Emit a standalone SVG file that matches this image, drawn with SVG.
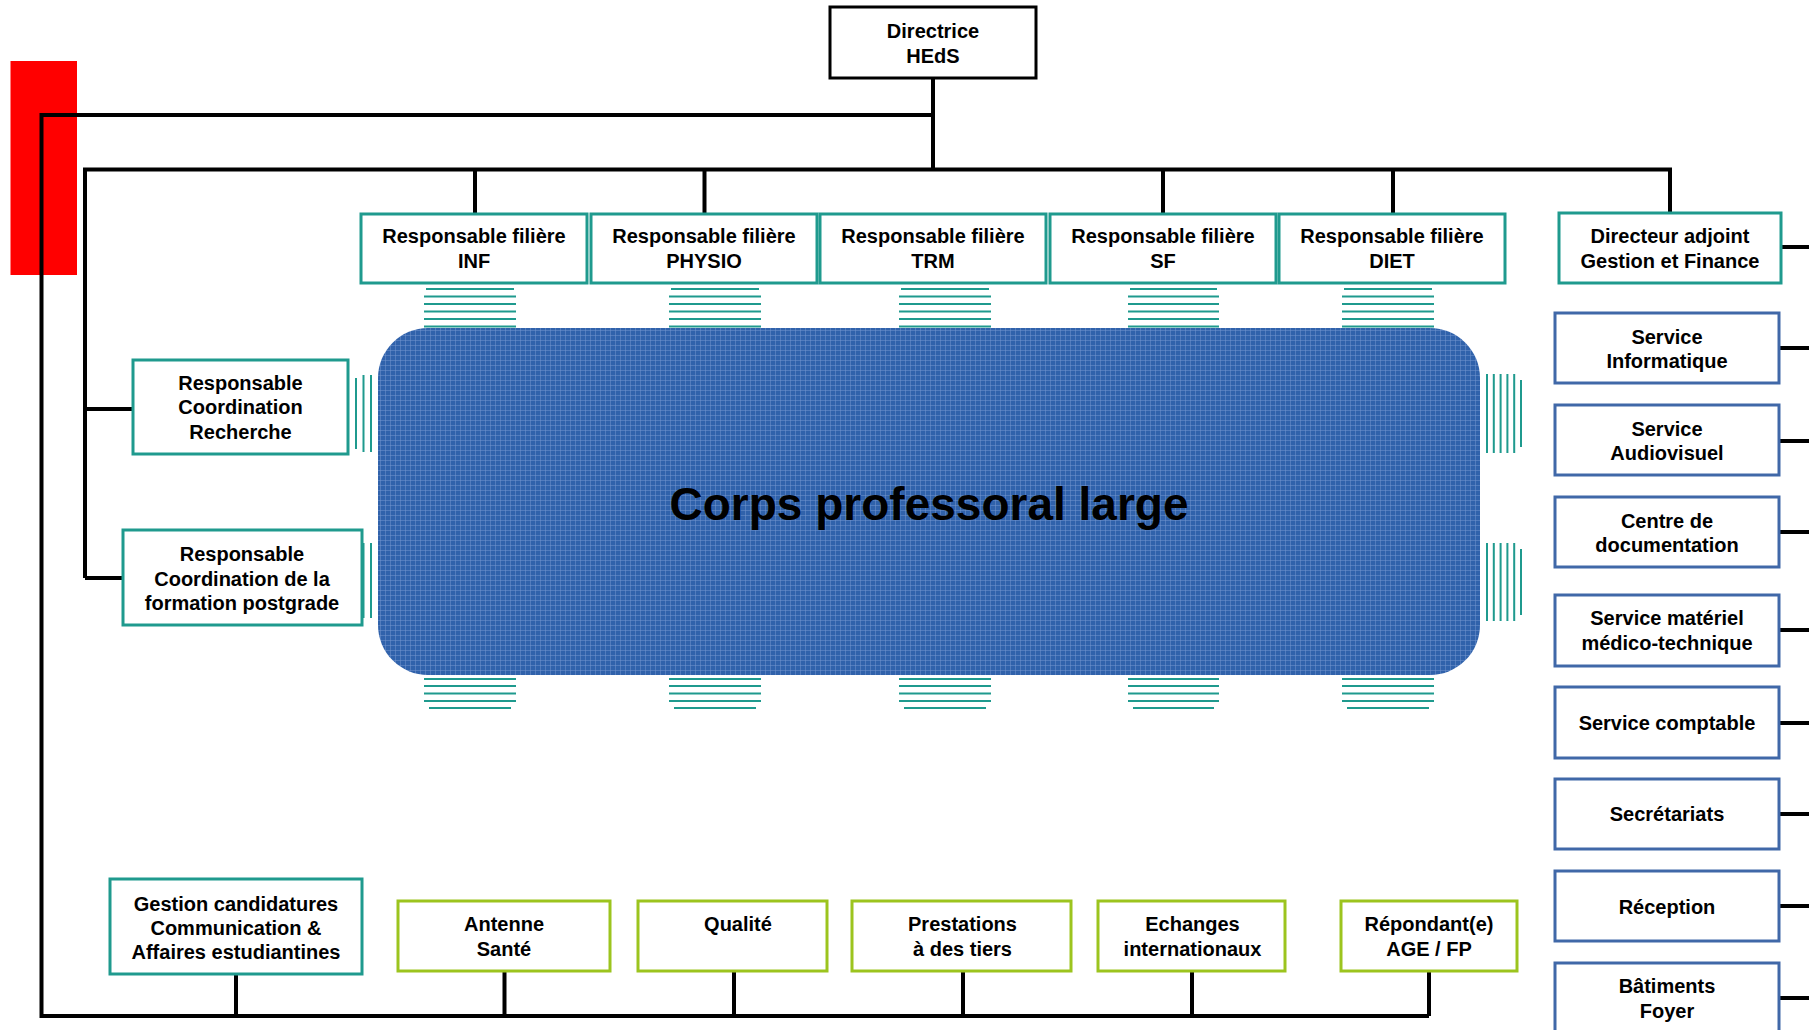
<svg xmlns="http://www.w3.org/2000/svg" width="1809" height="1030" viewBox="0 0 1809 1030">
<style>
.t{font-family:"Liberation Sans",Arial,Helvetica,sans-serif;font-weight:bold;font-size:20px;fill:#000;text-anchor:middle}
.big{font-size:46px}
.teal{fill:#fff;stroke:#1f9a8e;stroke-width:3}
.green{fill:#fff;stroke:#9cc41e;stroke-width:3}
.blue{fill:#fff;stroke:#4068a8;stroke-width:3}
.blk{fill:#fff;stroke:#000;stroke-width:3}
.conn{stroke:#000;stroke-width:4;fill:none;stroke-linejoin:miter}
.hatch{stroke:#1f9a8e;stroke-width:2;fill:none}
</style>
<defs>
<pattern id="dots" width="5" height="5" patternUnits="userSpaceOnUse">
<rect width="5" height="5" fill="#3062ab"/>
<rect width="5" height="1" fill="#7396cf" opacity="0.5"/>
<rect width="1" height="5" fill="#7396cf" opacity="0.5"/>
</pattern>
</defs>
<rect width="1809" height="1030" fill="#fff"/>
<rect x="10.5" y="61" width="66.5" height="214" fill="#ff0000"/>

<g id="corps">
<rect x="378" y="328" width="1102" height="347" rx="50" fill="url(#dots)"/>
<text class="t big" x="929" y="520">Corps professoral large</text>
</g>

<g id="hatches" class="hatch">
<path d="M426,289H514M424,296.5H516M424,304H516M424,311.5H516M424,319H516M424,326.5H516"/>
<path d="M671,289H759M669,296.5H761M669,304H761M669,311.5H761M669,319H761M669,326.5H761"/>
<path d="M901,289H989M899,296.5H991M899,304H991M899,311.5H991M899,319H991M899,326.5H991"/>
<path d="M1130,289H1217M1128,296.5H1219M1128,304H1219M1128,311.5H1219M1128,319H1219M1128,326.5H1219"/>
<path d="M1344,289H1432M1342,296.5H1434M1342,304H1434M1342,311.5H1434M1342,319H1434M1342,326.5H1434"/>
<path d="M424,679H516M424,686H516M424,693.5H516M424,701H516M429,708H511"/>
<path d="M669,679H761M669,686H761M669,693.5H761M669,701H761M674,708H756"/>
<path d="M899,679H991M899,686H991M899,693.5H991M899,701H991M904,708H986"/>
<path d="M1128,679H1219M1128,686H1219M1128,693.5H1219M1128,701H1219M1133,708H1214"/>
<path d="M1342,679H1434M1342,686H1434M1342,693.5H1434M1342,701H1434M1347,708H1429"/>
<path d="M1487,374V453M1493.8,374V453M1500.6,374V453M1507.4,374V453M1514.2,374V453M1521,380V447"/>
<path d="M1487,543V621M1493.8,543V621M1500.6,543V621M1507.4,543V621M1514.2,543V621M1521,549V615"/>
<path d="M356,378V449M363.5,375V452M371,375V452"/>
<path d="M356,543V618M363.5,543V618M371,543V618"/>
</g>

<g id="connectors" class="conn">
<path d="M933,78V169.5"/>
<path d="M933,115H41.5V1016H1429"/>
<path d="M85,578V169.5H1670V213"/>
<path d="M85,409H133M85,578H123"/>
<path d="M475,169.5V214M704.5,169.5V214M1163,169.5V214M1393,169.5V214"/>
<path d="M1781,247H1809"/>
<path d="M1779,348H1809M1779,441H1809M1779,532H1809M1779,630H1809M1779,723H1809M1779,814H1809M1779,906H1809M1779,998H1809"/>
<path d="M236,975V1016M504.5,971V1016M734,971V1016M963,971V1016M1192,971V1016M1429,971V1016"/>
</g>

<g id="directrice"><rect class="blk" x="830" y="7" width="206" height="71"/><text class="t" x="933" y="38">Directrice</text><text class="t" x="933" y="63">HEdS</text></g>

<g id="inf"><rect class="teal" x="361" y="214" width="226" height="69"/><text class="t" x="474" y="243">Responsable filière</text><text class="t" x="474" y="268">INF</text></g>
<g id="physio"><rect class="teal" x="591" y="214" width="226" height="69"/><text class="t" x="704" y="243">Responsable filière</text><text class="t" x="704" y="268">PHYSIO</text></g>
<g id="trm"><rect class="teal" x="820" y="214" width="226" height="69"/><text class="t" x="933" y="243">Responsable filière</text><text class="t" x="933" y="268">TRM</text></g>
<g id="sf"><rect class="teal" x="1050" y="214" width="226" height="69"/><text class="t" x="1163" y="243">Responsable filière</text><text class="t" x="1163" y="268">SF</text></g>
<g id="diet"><rect class="teal" x="1279" y="214" width="226" height="69"/><text class="t" x="1392" y="243">Responsable filière</text><text class="t" x="1392" y="268">DIET</text></g>
<g id="adjoint"><rect class="teal" x="1559" y="213" width="222" height="70"/><text class="t" x="1670" y="243">Directeur adjoint</text><text class="t" x="1670" y="268">Gestion et Finance</text></g>

<g id="recherche"><rect class="teal" x="133" y="360" width="215" height="94"/><text class="t" x="240.5" y="390">Responsable</text><text class="t" x="240.5" y="414">Coordination</text><text class="t" x="240.5" y="439">Recherche</text></g>
<g id="postgrade"><rect class="teal" x="123" y="530" width="239" height="95"/><text class="t" x="242" y="561">Responsable</text><text class="t" x="242" y="586">Coordination de la</text><text class="t" x="242" y="610">formation postgrade</text></g>

<g id="informatique"><rect class="blue" x="1555" y="313" width="224" height="70"/><text class="t" x="1667" y="344">Service</text><text class="t" x="1667" y="368">Informatique</text></g>
<g id="audiovisuel"><rect class="blue" x="1555" y="405" width="224" height="70"/><text class="t" x="1667" y="436">Service</text><text class="t" x="1667" y="460">Audiovisuel</text></g>
<g id="documentation"><rect class="blue" x="1555" y="497" width="224" height="70"/><text class="t" x="1667" y="528">Centre de</text><text class="t" x="1667" y="552">documentation</text></g>
<g id="materiel"><rect class="blue" x="1555" y="595" width="224" height="71"/><text class="t" x="1667" y="625">Service matériel</text><text class="t" x="1667" y="650">médico-technique</text></g>
<g id="comptable"><rect class="blue" x="1555" y="687" width="224" height="71"/><text class="t" x="1667" y="730">Service comptable</text></g>
<g id="secretariats"><rect class="blue" x="1555" y="779" width="224" height="70"/><text class="t" x="1667" y="821">Secrétariats</text></g>
<g id="reception"><rect class="blue" x="1555" y="871" width="224" height="70"/><text class="t" x="1667" y="914">Réception</text></g>
<g id="batiments"><rect class="blue" x="1555" y="963" width="224" height="80"/><text class="t" x="1667" y="993">Bâtiments</text><text class="t" x="1667" y="1018">Foyer</text></g>

<g id="gestion"><rect class="teal" x="110" y="879" width="252" height="95"/><text class="t" x="236" y="911">Gestion candidatures</text><text class="t" x="236" y="935">Communication &amp;</text><text class="t" x="236" y="959">Affaires estudiantines</text></g>
<g id="antenne"><rect class="green" x="398" y="901" width="212" height="70"/><text class="t" x="504" y="931">Antenne</text><text class="t" x="504" y="956">Santé</text></g>
<g id="qualite"><rect class="green" x="638" y="901" width="189" height="70"/><text class="t" x="738" y="931">Qualité</text></g>
<g id="prestations"><rect class="green" x="852" y="901" width="219" height="70"/><text class="t" x="962.5" y="931">Prestations</text><text class="t" x="962.5" y="956">à des tiers</text></g>
<g id="echanges"><rect class="green" x="1098" y="901" width="187" height="70"/><text class="t" x="1192.5" y="931">Echanges</text><text class="t" x="1192.5" y="956">internationaux</text></g>
<g id="repondant"><rect class="green" x="1341" y="901" width="176" height="70"/><text class="t" x="1429" y="931">Répondant(e)</text><text class="t" x="1429" y="956">AGE / FP</text></g>
</svg>
